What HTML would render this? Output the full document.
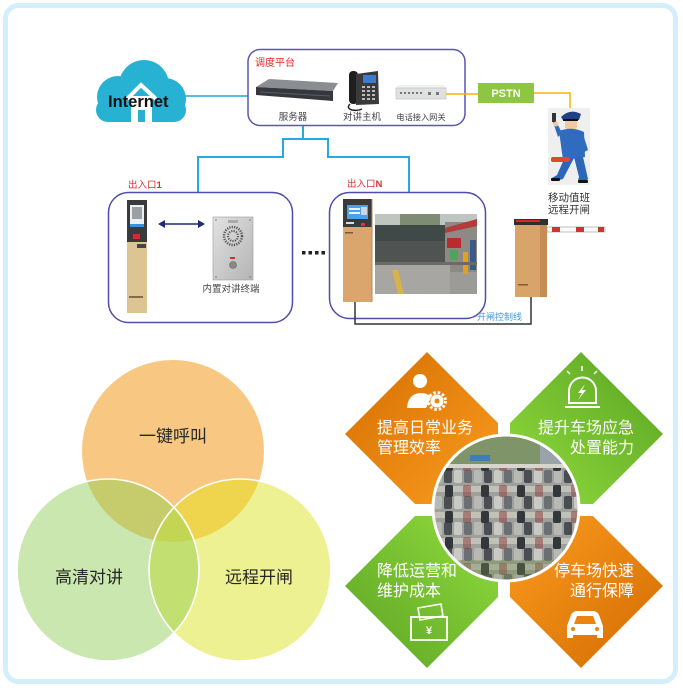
<!DOCTYPE html>
<html><head><meta charset="utf-8">
<style>
html,body{margin:0;padding:0;background:#fff;}
svg{display:block;}
text{font-family:"Liberation Sans","Noto Sans CJK SC",sans-serif;}
</style></head><body>
<svg width="683" height="688" viewBox="0 0 683 688" xmlns="http://www.w3.org/2000/svg">
<defs>
  <linearGradient id="gTL" x1="0" y1="0" x2="1" y2="1"><stop offset="0" stop-color="#d56e00"/><stop offset="1" stop-color="#fb9d20"/></linearGradient>
  <linearGradient id="gBR" x1="0" y1="0" x2="1" y2="1"><stop offset="0" stop-color="#fb9d20"/><stop offset="1" stop-color="#d36a00"/></linearGradient>
  <linearGradient id="gTR" x1="0" y1="1" x2="1" y2="0"><stop offset="0" stop-color="#92dc3e"/><stop offset="1" stop-color="#58a322"/></linearGradient>
  <linearGradient id="gBL" x1="1" y1="0" x2="0" y2="1"><stop offset="0" stop-color="#92dc3e"/><stop offset="1" stop-color="#5ba424"/></linearGradient>
  <linearGradient id="gPanel" x1="0" y1="0" x2="1" y2="1"><stop offset="0" stop-color="#e2e2e2"/><stop offset="1" stop-color="#b4b4b4"/></linearGradient>
  <clipPath id="cT"><circle cx="173" cy="451" r="91"/></clipPath>
  <clipPath id="cL"><circle cx="108" cy="570" r="91"/></clipPath>
  <clipPath id="cP"><circle cx="506" cy="508" r="73"/></clipPath>
  <pattern id="cars" width="40" height="26" patternUnits="userSpaceOnUse" x="3" y="0">
    <rect width="40" height="26" fill="#9ea19b"/>
    <rect x="1" y="2" width="8" height="13" rx="2" fill="#4a4d52"/>
    <rect x="11" y="2" width="8" height="13" rx="2" fill="#c9cac6"/>
    <rect x="21" y="2" width="8" height="13" rx="2" fill="#6b6e72"/>
    <rect x="31" y="2" width="8" height="13" rx="2" fill="#b8b9b5"/>
    <rect x="0" y="18" width="40" height="6" fill="#c2c1b8"/>
  </pattern>
  <pattern id="cars2" width="36" height="26" patternUnits="userSpaceOnUse" x="10" y="13">
    <rect width="36" height="26" fill="none"/>
    <rect x="3" y="4" width="8" height="12" rx="2" fill="#33363a"/>
    <rect x="21" y="4" width="8" height="12" rx="2" fill="#8b3a3a" opacity="0.5"/>
  </pattern>
</defs>

<!-- frame -->
<rect x="5.5" y="5.5" width="670" height="676" rx="13" fill="#fff" stroke="#d3effb" stroke-width="5"/>

<!-- ============ TOP SECTION ============ -->
<g fill="#27b2d3">
  <circle cx="118" cy="97" r="21"/>
  <circle cx="144" cy="85" r="25"/>
  <circle cx="165" cy="99" r="21"/>
  <rect x="96" y="98" width="90" height="24" rx="12"/>
</g>
<polyline points="127,99 141,85 156,99" fill="none" stroke="#fff" stroke-width="4"/>
<rect x="131" y="96" width="21" height="26" fill="#fff"/>
<rect x="138" y="110" width="7" height="12" fill="#27b2d3"/>
<text x="108" y="107" font-size="16.5" font-weight="bold" fill="#111">Internet</text>
<line x1="185" y1="96" x2="248" y2="96" stroke="#1fa9dc" stroke-width="1.5"/>

<rect x="248" y="49.5" width="217" height="76" rx="12" fill="#fff" stroke="#5b57b5" stroke-width="1.5"/>
<text x="255" y="66" font-size="10" fill="#e8262a">调度平台</text>
<polygon points="256,87 269,79 338,83 333,91" fill="#8a8d92"/>
<polygon points="256,87 333,91 333,101 256,95" fill="#34373b"/>
<line x1="260" y1="92" x2="330" y2="96" stroke="#5a5d62" stroke-width="1"/>
<text x="293" y="120" font-size="9.5" fill="#444" text-anchor="middle">服务器</text>
<rect x="349" y="71" width="9" height="33" rx="4" fill="#1f1f1f"/>
<path d="M350 104 q-4 4 2 6 q6 1 10 -1" fill="none" stroke="#222" stroke-width="1.5"/>
<polygon points="356,74 378,71 379,104 356,105" fill="#3a3a3a"/>
<rect x="363" y="75" width="13" height="8" fill="#3c7bd1"/>
<g fill="#bbb">
  <rect x="362" y="86" width="3" height="2"/><rect x="367" y="86" width="3" height="2"/><rect x="372" y="86" width="3" height="2"/>
  <rect x="362" y="90" width="3" height="2"/><rect x="367" y="90" width="3" height="2"/><rect x="372" y="90" width="3" height="2"/>
  <rect x="362" y="94" width="3" height="2"/><rect x="367" y="94" width="3" height="2"/><rect x="372" y="94" width="3" height="2"/>
  <rect x="362" y="98" width="3" height="2"/><rect x="367" y="98" width="3" height="2"/><rect x="372" y="98" width="3" height="2"/>
</g>
<text x="362" y="120" font-size="9.5" fill="#444" text-anchor="middle">对讲主机</text>
<polygon points="398,85 444,85 446,88 396,88" fill="#f0f1f0"/>
<rect x="396" y="88" width="50" height="11" fill="#dfe1e0" stroke="#b8bbba" stroke-width="0.6"/>
<g fill="#777"><rect x="400" y="92" width="2" height="2"/><rect x="404" y="92" width="2" height="2"/><rect x="408" y="92" width="2" height="2"/><rect x="412" y="92" width="2" height="2"/><rect x="416" y="92" width="2" height="2"/><rect x="420" y="92" width="2" height="2"/><rect x="428" y="92" width="3" height="3"/><rect x="436" y="92" width="3" height="3"/></g>
<text x="421" y="120" font-size="8.2" fill="#444" text-anchor="middle">电话接入网关</text>

<polyline points="446,94 478,94" fill="none" stroke="#f6b300" stroke-width="1.5"/>
<rect x="478" y="83" width="56" height="20" fill="#8dc73f"/>
<text x="506" y="97" font-size="11" font-weight="bold" fill="#fff" text-anchor="middle">PSTN</text>
<polyline points="534,93 570,93 570,109" fill="none" stroke="#f6b300" stroke-width="1.5"/>

<!-- police -->
<rect x="548" y="108" width="42" height="77" fill="#efefef"/>
<path d="M561 117 q9 -9 20 -3 l-2 6 l-16 0 z" fill="#1f3f86"/>
<rect x="563" y="119" width="15" height="2" fill="#111"/>
<path d="M565 121 h12 v7 q-6 5 -12 0 z" fill="#f1c9a3"/>
<path d="M559 131 q13 -5 25 1 l1 25 l-22 3 z" fill="#2f6cc0"/>
<path d="M562 133 l-6 -12 l-3 1 l5 15 z" fill="#2f6cc0"/>
<rect x="552" y="113" width="4" height="9" fill="#333"/>
<circle cx="556" cy="124" r="2.5" fill="#f1c9a3"/>
<path d="M583 134 l5 16 l-17 9 l-2 -4 l13 -7 l-3 -13 z" fill="#2f6cc0"/>
<path d="M565 157 l-8 18 l-5 3 l3 3 l8 -2 l11 -21 z" fill="#2b66b8"/>
<path d="M574 157 l5 20 l-1 3 l8 2 l2 -3 l-5 -22 z" fill="#2b66b8"/>
<rect x="551" y="178" width="9" height="3" rx="1" fill="#111"/>
<rect x="578" y="180" width="10" height="3" rx="1" fill="#111"/>
<rect x="551" y="157" width="19" height="5" rx="2" fill="#e2472b"/>
<text x="548" y="201" font-size="10.5" fill="#333">移动值班</text>
<text x="548" y="213" font-size="10.5" fill="#333">远程开闸</text>

<path d="M303 126 V139 H283 V157 H198 V193" fill="none" stroke="#24a9e1" stroke-width="2"/>
<path d="M303 139 H328 V157 H409 V192" fill="none" stroke="#24a9e1" stroke-width="2"/>

<rect x="108.5" y="192.5" width="184" height="130" rx="20" fill="none" stroke="#4e4eaa" stroke-width="1.5"/>
<text x="128" y="188" font-size="9.5" fill="#e0302f">出入口<tspan font-weight="bold">1</tspan></text>
<rect x="127" y="200" width="20" height="113" fill="#dcc493"/>
<rect x="127" y="200" width="20" height="42" fill="#3a3a3a"/>
<rect x="130" y="205" width="14" height="22" fill="#e9f1f7"/>
<rect x="132" y="207" width="10" height="12" fill="#9aa0a4"/>
<rect x="130" y="224" width="14" height="3" fill="#3c8fd8"/>
<rect x="133" y="234" width="7" height="5" fill="#d62b2b"/>
<rect x="137" y="244" width="9" height="4" fill="#444"/>
<rect x="129" y="296" width="14" height="2" fill="#8a6a4a"/>
<line x1="162" y1="224" x2="201" y2="224" stroke="#1f2a7a" stroke-width="1.6"/>
<polygon points="158,224 165,220 165,228" fill="#1f2a7a"/>
<polygon points="205,224 198,220 198,228" fill="#1f2a7a"/>
<rect x="213" y="217" width="40" height="63" fill="url(#gPanel)" stroke="#999" stroke-width="0.6"/>
<rect x="228" y="220" width="10" height="3" fill="#aaa"/>
<circle cx="233" cy="236" r="9" fill="none" stroke="#555" stroke-width="2.5" stroke-dasharray="1.2 1.2"/>
<circle cx="233" cy="236" r="5" fill="none" stroke="#555" stroke-width="2" stroke-dasharray="1.2 1.2"/>
<rect x="230" y="257" width="5" height="2" fill="#c33"/>
<circle cx="233" cy="265" r="3.5" fill="#888" stroke="#666" stroke-width="0.6"/>
<circle cx="216" cy="220" r="0.8" fill="#777"/><circle cx="250" cy="220" r="0.8" fill="#777"/>
<circle cx="216" cy="277" r="0.8" fill="#777"/><circle cx="250" cy="277" r="0.8" fill="#777"/>
<text x="231" y="292" font-size="9.5" fill="#444" text-anchor="middle">内置对讲终端</text>
<g fill="#222"><rect x="302" y="251" width="3.5" height="3.5"/><rect x="308.5" y="251" width="3.5" height="3.5"/><rect x="315" y="251" width="3.5" height="3.5"/><rect x="321.5" y="251" width="3.5" height="3.5"/></g>

<rect x="329.5" y="192.5" width="156" height="126" rx="20" fill="none" stroke="#4e4eaa" stroke-width="1.5"/>
<text x="347" y="187" font-size="9.5" fill="#e0302f">出入口<tspan font-weight="bold">N</tspan></text>
<rect x="343" y="199" width="29" height="103" fill="#daa66d"/>
<rect x="343" y="199" width="29" height="28" fill="#3a3a3a"/>
<rect x="347" y="205" width="21" height="14" fill="#4aa3e8"/>
<rect x="349" y="208" width="11" height="2" fill="#e8f3fc"/>
<rect x="349" y="212" width="11" height="2" fill="#e8f3fc"/>
<rect x="361" y="207" width="6" height="8" fill="#cfd6dc"/>
<rect x="346" y="222" width="8" height="2" fill="#ddd"/>
<rect x="361" y="223" width="4" height="3" fill="#d33"/>
<rect x="345" y="232" width="8" height="1.5" fill="#7a5a3a"/>
<line x1="372" y1="199" x2="372" y2="302" stroke="#b98a55" stroke-width="1"/>
<rect x="375" y="214" width="102" height="80" fill="#9c9b98"/>
<rect x="375" y="214" width="102" height="12" fill="#bfc6c2"/>
<rect x="400" y="214" width="40" height="12" fill="#7f8c74"/>
<rect x="375" y="225" width="70" height="16" fill="#3f4948"/>
<rect x="375" y="241" width="75" height="22" fill="#4f5352"/>
<rect x="445" y="222" width="32" height="50" fill="#8d8a86"/>
<polygon points="445,228 477,219 477,226 445,233" fill="#b33b3b"/>
<rect x="447" y="238" width="14" height="10" fill="#b82c30"/>
<rect x="450" y="250" width="8" height="10" fill="#4fa35a"/>
<rect x="463" y="252" width="5" height="22" fill="#e0a020"/>
<rect x="470" y="240" width="6" height="30" fill="#3b5a88"/>
<rect x="375" y="263" width="75" height="31" fill="#a7a6a2"/>
<polygon points="392,270 398,294 404,294 398,270" fill="#d7b34a"/>
<rect x="375" y="262" width="102" height="3" fill="#6b6a66"/>
<rect x="515" y="224" width="32" height="73" fill="#d8a46a"/>
<rect x="540" y="224" width="7" height="73" fill="#c58d55"/>
<rect x="514" y="219" width="34" height="6" fill="#2f2f2f"/>
<rect x="516" y="220" width="24" height="2" fill="#e02424"/>
<rect x="518" y="284" width="10" height="1.5" fill="#8a5a30"/>
<rect x="547" y="227" width="58" height="5" fill="#fafafa" stroke="#9a9a9a" stroke-width="0.6"/>
<rect x="552" y="227" width="8" height="5" fill="#d63030"/>
<rect x="576" y="227" width="8" height="5" fill="#d63030"/>
<rect x="598" y="227" width="6" height="5" fill="#d63030"/>
<path d="M355 302 V324 H531 V297" fill="none" stroke="#333" stroke-width="1.5"/>
<text x="477" y="320" font-size="9" fill="#3d9be0">开闸控制线</text>

<!-- ============ VENN ============ -->
<circle cx="173" cy="451" r="91" fill="#f8c781"/>
<circle cx="108" cy="570" r="91" fill="#c9e7ae"/>
<circle cx="240" cy="570" r="91" fill="#eef192"/>
<circle cx="108" cy="570" r="91" fill="#c6cc6b" clip-path="url(#cT)"/>
<circle cx="240" cy="570" r="91" fill="#efd54e" clip-path="url(#cT)"/>
<circle cx="240" cy="570" r="91" fill="#c2e071" clip-path="url(#cL)"/>
<g clip-path="url(#cT)"><circle cx="240" cy="570" r="91" fill="#c3d654" clip-path="url(#cL)"/></g>
<circle cx="108" cy="570" r="91" fill="none" stroke="#fff" stroke-width="1.6"/>
<circle cx="240" cy="570" r="91" fill="none" stroke="#fff" stroke-width="1.6"/>
<text x="173" y="442" font-size="17" fill="#262626" text-anchor="middle">一键呼叫</text>
<text x="89" y="583" font-size="17" fill="#262626" text-anchor="middle">高清对讲</text>
<text x="259" y="583" font-size="17" fill="#262626" text-anchor="middle">远程开闸</text>

<!-- ============ DIAMONDS ============ -->
<polygon points="427,352 498,423 498,445 439,504 415,504 345,434" fill="url(#gTL)"/>
<polygon points="581,352 663,434 593,504 569,504 510,445 510,423" fill="url(#gTR)"/>
<polygon points="415,516 439,516 498,575 498,597 427,668 345,586" fill="url(#gBL)"/>
<polygon points="569,516 593,516 663,586 581,668 510,597 510,575" fill="url(#gBR)"/>

<g clip-path="url(#cP)">
  <rect x="430" y="432" width="152" height="152" fill="url(#cars)"/>
  <rect x="430" y="432" width="152" height="152" fill="url(#cars2)"/>
  <rect x="430" y="432" width="152" height="34" fill="#7f9468"/>
  <rect x="540" y="440" width="45" height="24" fill="#9ba3aa"/>
  <rect x="470" y="455" width="20" height="6" fill="#3c7fb0"/>
  <rect x="430" y="464" width="152" height="4" fill="#d8d6cc"/>
  <rect x="430" y="560" width="152" height="30" fill="#6f8a4e" opacity="0.35"/>
</g>
<circle cx="506" cy="508" r="73" fill="none" stroke="#fff" stroke-width="3"/>

<g fill="#fff">
  <circle cx="420" cy="381" r="7"/>
  <path d="M407 408 q1 -14 13 -15 q8 0 11 4 l-5 11 z"/>
  <circle cx="437" cy="401" r="6.5"/>
</g>
<circle cx="437" cy="401" r="8.5" fill="none" stroke="#fff" stroke-width="3" stroke-dasharray="2.5 2"/>
<circle cx="437" cy="401" r="2.5" fill="#e98a10"/>

<path d="M569 403 V391 a13.5 13.5 0 0 1 27 0 V403 Z" fill="none" stroke="#fff" stroke-width="2"/>
<path d="M585 384 l-7 9 l4 0 l-4 7 l8 -10 l-4 0 z" fill="#fff"/>
<rect x="565" y="406" width="35" height="2" fill="#fff"/>
<g stroke="#fff" stroke-width="1.5"><line x1="582" y1="366" x2="582" y2="371"/><line x1="567" y1="371" x2="570" y2="374"/><line x1="597" y1="371" x2="594" y2="374"/></g>

<rect x="411" y="617" width="36" height="23" fill="none" stroke="#fff" stroke-width="1.8"/>
<polygon points="418,608 441,604 443,616 420,620" fill="none" stroke="#fff" stroke-width="1.6"/>
<text x="429" y="634" font-size="11" font-weight="bold" fill="#fff" text-anchor="middle">¥</text>

<path d="M567 626 l4 -11 q2 -4 6 -4 h16 q4 0 6 4 l4 11 v12 h-6 v-3 h-24 v3 h-6 z" fill="#fff"/>
<path d="M574 624 l3 -8 h16 l3 8 z" fill="#ec8410"/>
<circle cx="573" cy="629" r="2" fill="#ec8410"/><circle cx="597" cy="629" r="2" fill="#ec8410"/>

<g font-size="16" fill="#fff">
  <text x="377" y="433">提高日常业务</text>
  <text x="377" y="453">管理效率</text>
  <text x="634" y="433" text-anchor="end">提升车场应急</text>
  <text x="634" y="453" text-anchor="end">处置能力</text>
  <text x="377" y="576">降低运营和</text>
  <text x="377" y="596">维护成本</text>
  <text x="634" y="576" text-anchor="end">停车场快速</text>
  <text x="634" y="596" text-anchor="end">通行保障</text>
</g>
</svg>
</body></html>
